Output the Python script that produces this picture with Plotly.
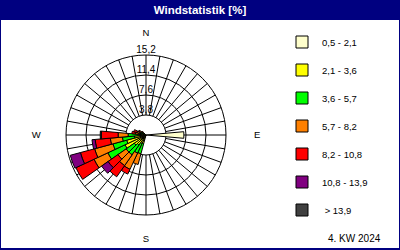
import plotly.graph_objects as go

# ---------------- data ----------------
directions = [90, 200, 210, 220, 230, 240, 250, 260, 270, 280, 290, 300, 310]
class_labels = ["0,5 - 2,1", "2,1 - 3,6", "3,6 - 5,7", "5,7 - 8,2",
                "8,2 - 10,8", "10,8 - 13,9", " > 13,9"]
class_colors = ["#FFFFCC", "#FFFF00", "#00FF00", "#FF8000",
                "#FF0000", "#800080", "#404040"]

s_05_21 = [7.2, 0.2, 0.2, 0.3, 0.4, 0.4, 0.8, 0.6, 0.0, 0.4, 0.3, 0.3, 0.2]
s_21_36 = [0.0, 1.5, 1.6, 2.0, 2.3, 4.0, 3.0, 1.6, 1.5, 0.5, 0.5, 0.4, 0.3]
s_36_57 = [0.0, 2.0, 2.0, 2.3, 1.9, 3.6, 2.7, 2.3, 1.9, 0.5, 0.5, 0.4, 0.2]
s_57_82 = [0.0, 2.1, 3.4, 2.5, 1.9, 2.9, 3.6, 2.3, 1.9, 0.6, 0.5, 0.3, 0.2]
s_82_108 = [0.0, 0.0, 1.0, 2.6, 2.3, 3.8, 2.8, 2.9, 3.2, 0.7, 0.6, 0.2, 0.1]
s_108_139 = [0.0, 0.0, 0.0, 0.0, 1.5, 0.0, 2.0, 0.6, 0.0, 0.0, 0.0, 0.0, 0.0]
s_gt_139 = [0.0, 0.0, 0.0, 0.0, 0.0, 0.0, 0.0, 0.0, 0.2, 0.0, 0.0, 0.0, 0.0]

ring_values = [3.8, 7.6, 11.4, 15.2]
ring_labels = ["3,8", "7,6", "11,4", "15,2"]
spoke_angles = list(range(0, 360, 10))
NB = "\u00a0"
compass = {0: "N", 90: NB * 4 + "E", 180: "S", 270: "W" + NB * 3}
footer = "4. KW 2024"
title = "Windstatistik [%]"

series = [s_05_21, s_21_36, s_36_57, s_57_82, s_82_108, s_108_139, s_gt_139]

FONT = "Liberation Sans"
NAVY = "#000080"

fig = go.Figure()

# radial ring labels (on background polar)
fig.add_trace(go.Scatterpolar(
    r=ring_values, theta=[0] * len(ring_values), mode="text",
    text=ring_labels, textposition="top center",
    textfont=dict(family=FONT, size=10, color="black"),
    cliponaxis=False, showlegend=False, hoverinfo="skip", subplot="polar"))

for lab, col, vals in zip(class_labels, class_colors, series):
    fig.add_trace(go.Barpolar(
        r=vals, theta=directions, width=10, name=lab,
        legendgroup=lab,
        marker=dict(color=col, line=dict(color="black", width=1)),
        subplot="polar2"))

dom = dict(x=[0.165, 0.565], y=[0.14, 0.78])

fig.update_layout(
    width=400, height=250,
    margin=dict(l=0, r=0, t=0, b=0),
    paper_bgcolor="white",
    showlegend=True,
    polar=dict(
        domain=dom, hole=0.25, bgcolor="white",
        radialaxis=dict(range=[ring_values[0], ring_values[-1]], tickvals=ring_values,
                        showticklabels=False, ticks="", showline=False,
                        gridcolor="black", gridwidth=1),
        angularaxis=dict(rotation=90, direction="clockwise",
                         tickmode="array", tickvals=spoke_angles,
                         ticktext=[compass.get(a, "") for a in spoke_angles],
                         ticks="outside", ticklen=15, tickcolor="rgba(0,0,0,0)",
                         tickfont=dict(family=FONT, size=9.5, color="black"),
                         showline=True, linecolor="black", linewidth=1,
                         gridcolor="black", gridwidth=1),
    ),
    polar2=dict(
        domain=dom, hole=0, bgcolor="rgba(0,0,0,0)", barmode="stack",
        radialaxis=dict(range=[0, ring_values[-1]], visible=False),
        angularaxis=dict(rotation=90, direction="clockwise", visible=False),
    ),
    legend=dict(x=0.705, xanchor="left", y=0.89, yanchor="top",
                tracegroupgap=9, bgcolor="rgba(0,0,0,0)",
                font=dict(family=FONT, size=9.5, color="black")),
    title=dict(text="<b>" + title + "</b>", x=0.5, xanchor="center",
               y=1 - 10 / 250, yanchor="middle",
               font=dict(family=FONT, size=11.5, color="white")),
    shapes=[
        dict(type="rect", xref="paper", yref="paper", x0=0, x1=1, y0=0.92, y1=1,
             fillcolor=NAVY, line=dict(width=0), layer="below"),
        dict(type="rect", xref="paper", yref="paper", x0=0, x1=1, y0=0, y1=1,
             fillcolor="rgba(0,0,0,0)", line=dict(color=NAVY, width=2)),
        dict(type="line", xref="paper", yref="paper", x0=0, x1=1, y0=0, y1=0,
             line=dict(color=NAVY, width=4)),
    ],
    annotations=[
        dict(text=footer, xref="paper", yref="paper", x=383 / 400, y=1 - 238 / 250,
             xanchor="right", yanchor="middle", showarrow=False,
             font=dict(family=FONT, size=10, color="black")),
    ],
)

fig.write_html("out.html")
